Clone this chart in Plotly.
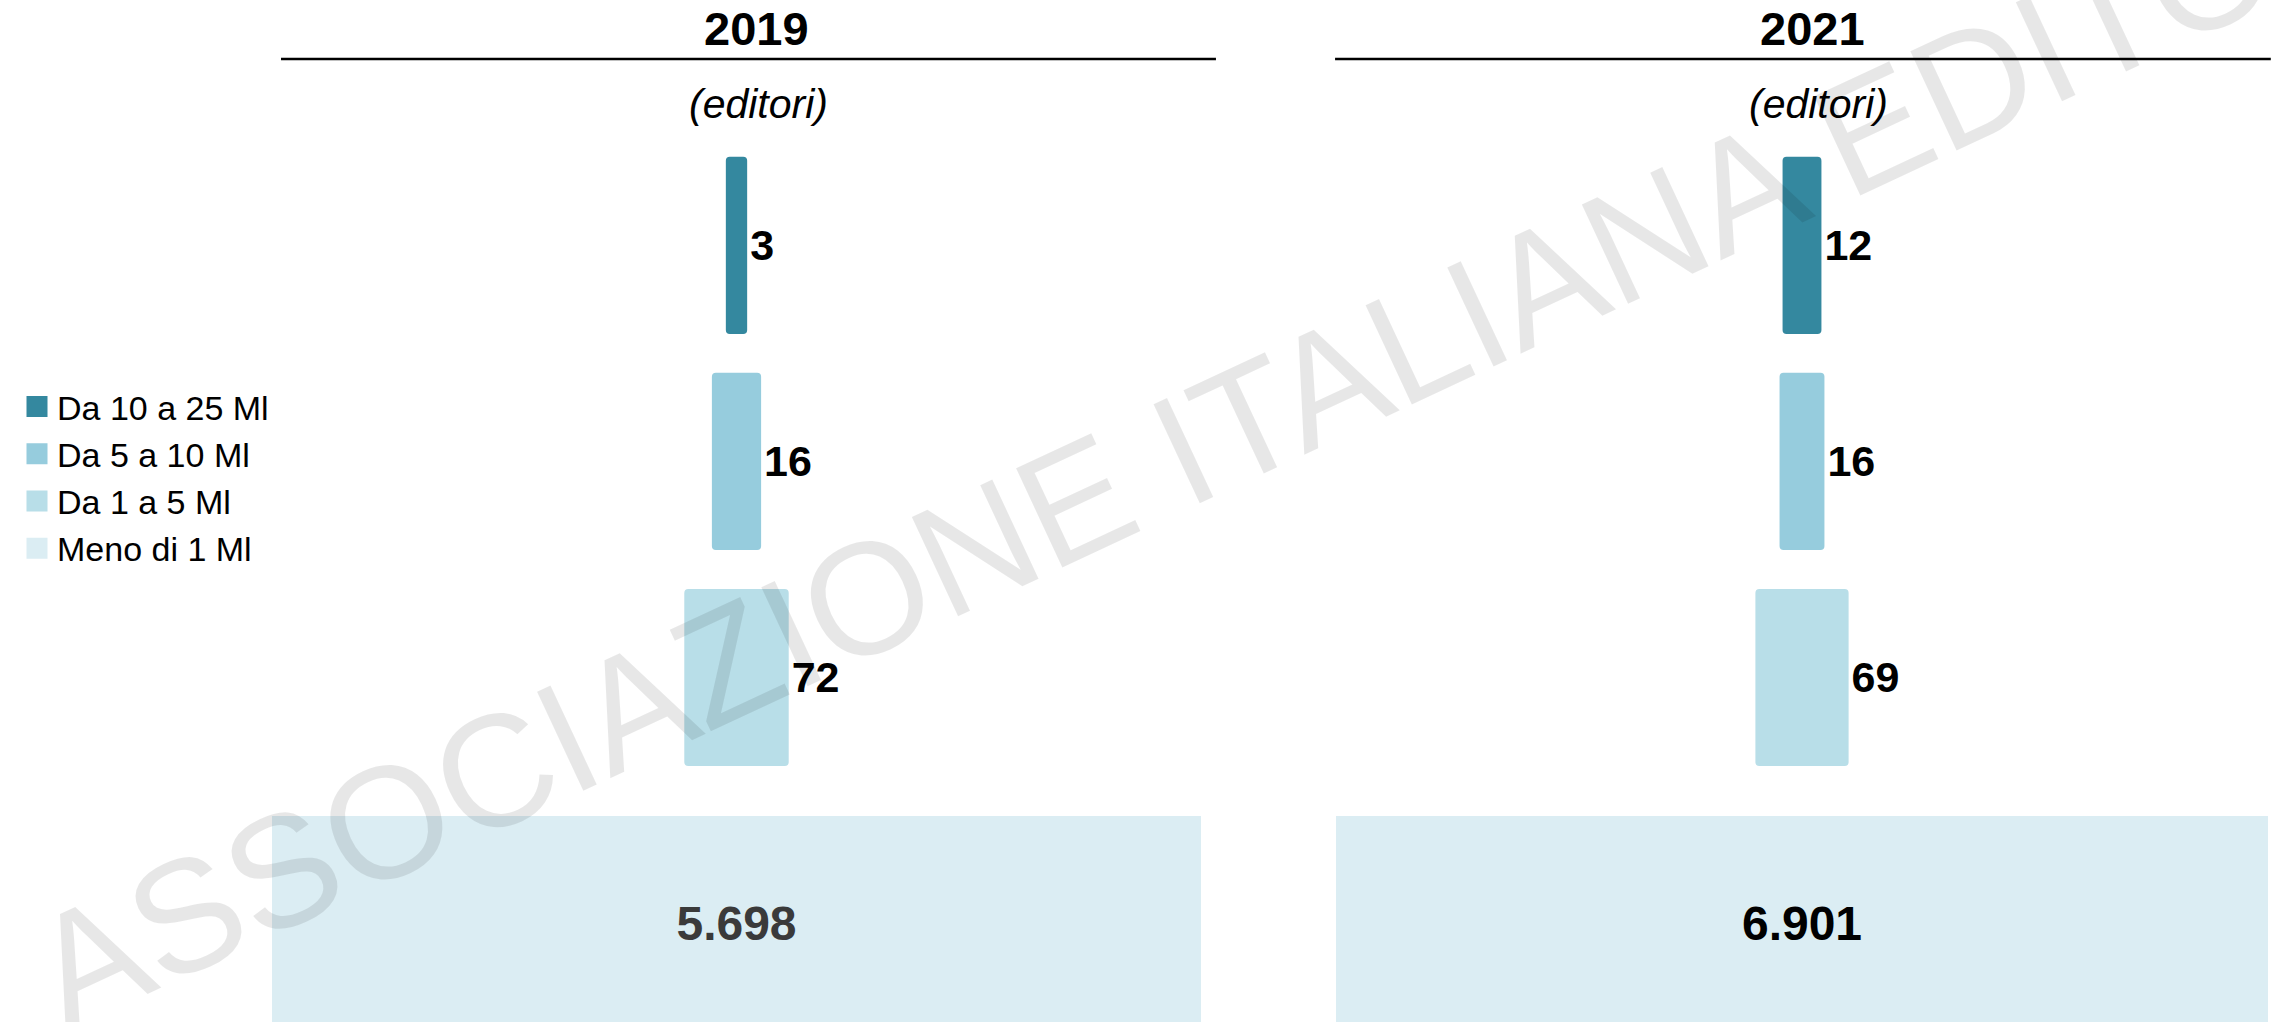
import math
import plotly.graph_objects as go

# ---------------- data ----------------
years = ["2019", "2021"]
classes = ["Da 10 a 25 Ml", "Da 5 a 10 Ml", "Da 1 a 5 Ml", "Meno di 1 Ml"]
values_2019 = [3, 16, 72, 5698]
values_2021 = [12, 16, 69, 6901]
colors = ["#34889F", "#96CCDD", "#B8DEE8", "#DBEDF3"]
subtitle = "(editori)"
watermark = "ASSOCIAZIONE ITALIANA EDITORI"

FONT = "Liberation Sans, Arial, sans-serif"
W, H = 2280, 1022


def fmt(v):
    return f"{v:,}".replace(",", ".")


panels = [
    dict(year=years[0], values=values_2019, xa="x", ya="y",
         domain=[272 / W, 1201 / W], big_color="#3a3a3a",
         title_x=0.522, sub_x=0.524, line=(0.0097, 1.0161)),
    dict(year=years[1], values=values_2021, xa="x2", ya="y2",
         domain=[1336 / W, 2268 / W], big_color="#000000",
         title_x=0.511, sub_x=0.518, line=(-0.001, 1.003)),
]

fig = go.Figure()

# legend entries (square swatches)
for cls, col in zip(classes, colors):
    fig.add_trace(go.Scatter(
        x=[None], y=[None], mode="markers", name=cls,
        marker=dict(symbol="square", size=16, color=col,
                    line=dict(color=col, width=5)),
        hoverinfo="skip", xaxis="x", yaxis="y", showlegend=True))

for pi, p in enumerate(panels):
    vals = p["values"]
    for i, (cls, v) in enumerate(zip(classes, vals)):
        w = math.sqrt(v)
        is_big = i == len(classes) - 1
        bar = dict(
            orientation="h",
            y=[cls],
            x=[w],
            base=[-w / 2],
            name=cls,
            showlegend=False,
            marker=dict(color=colors[i], line=dict(width=0),
                        cornerradius=0 if is_big else 4),
            text=[fmt(v)],
            constraintext="none",
            hoverinfo="skip",
            xaxis=p["xa"],
            yaxis=p["ya"],
        )
        if is_big:
            bar.update(width=[1.0], offset=[-0.641], textposition="inside",
                       insidetextanchor="middle",
                       insidetextfont=dict(family=FONT, size=48, weight="bold",
                                           color=p["big_color"]))
        else:
            bar.update(width=[0.82], textposition="outside",
                       outsidetextfont=dict(family=FONT, size=43, weight="bold",
                                            color="#000000"))
        fig.add_trace(go.Bar(**bar))

axis_common = dict(visible=False, showgrid=False, zeroline=False, fixedrange=True)
yaxis_common = dict(axis_common, type="category",
                    categoryorder="array", categoryarray=classes[::-1],
                    range=[-0.595, 4.136])

layout = dict(
    width=W, height=H,
    margin=dict(l=0, r=0, t=0, b=0),
    paper_bgcolor="white", plot_bgcolor="rgba(0,0,0,0)",
    barmode="overlay",
    font=dict(family=FONT, color="#000000"),
    showlegend=True,
    legend=dict(x=17 / W, y=1 - 378 / H, xanchor="left", yanchor="top",
                font=dict(family=FONT, size=34, color="#000000"),
                bgcolor="rgba(0,0,0,0)", traceorder="normal",
                itemclick=False, itemdoubleclick=False),
)

annotations = []
shapes = []
for pi, p in enumerate(panels):
    suffix = "" if pi == 0 else "2"
    max_half = math.sqrt(max(p["values"])) / 2
    layout["xaxis" + suffix] = dict(axis_common, domain=p["domain"],
                                    range=[-max_half, max_half],
                                    anchor="y" + suffix)
    layout["yaxis" + suffix] = dict(yaxis_common, anchor="x" + suffix)
    xref = p["xa"] + " domain"
    annotations.append(dict(text=p["year"], xref=xref, yref="paper",
                            x=p["title_x"], y=1 - 29 / H, showarrow=False,
                            xanchor="center", yanchor="middle",
                            font=dict(family=FONT, size=47, weight="bold",
                                      color="#000000")))
    annotations.append(dict(text=subtitle, xref=xref, yref="paper",
                            x=p["sub_x"], y=1 - 104 / H, showarrow=False,
                            xanchor="center", yanchor="middle",
                            font=dict(family=FONT, size=41, style="italic",
                                      color="#000000")))
    shapes.append(dict(type="line", xref=xref, yref="paper",
                       x0=p["line"][0], x1=p["line"][1],
                       y0=1 - 59 / H, y1=1 - 59 / H,
                       line=dict(color="#000000", width=2.5)))

annotations.append(dict(text=watermark, xref="paper", yref="paper",
                        x=1225 / W, y=1 - 431 / H, showarrow=False,
                        xanchor="center", yanchor="middle", textangle=-25,
                        font=dict(family=FONT, size=159,
                                  color="rgba(0,0,0,0.095)")))

layout["annotations"] = annotations
layout["shapes"] = shapes
fig.update_layout(**layout)

fig.write_html("out.html", config={"displayModeBar": False},
               post_script="document.body.style.margin='0';document.body.style.overflow='hidden';")
